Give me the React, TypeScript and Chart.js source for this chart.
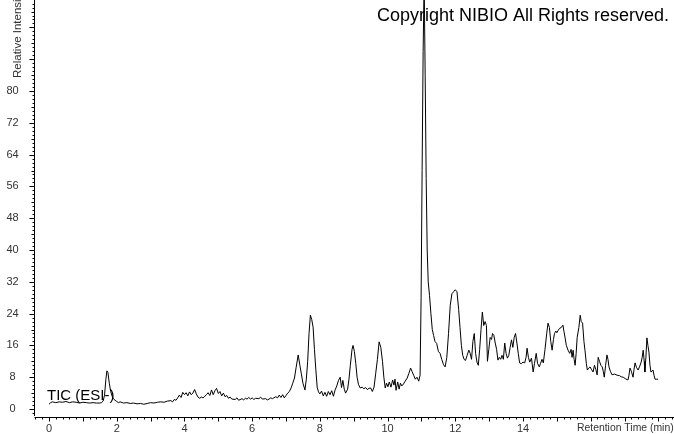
import React, { useEffect, useRef } from "react";
import { Chart, registerables } from "chart.js";

Chart.register(...registerables);

// Retention time (min) and relative intensity
const retentionTimes = [
  0.0, 0.05, 0.1, 0.2, 0.3, 0.4, 0.5, 0.6, 0.7, 0.8, 0.9, 1.0, 1.1, 1.2, 1.3, 1.4, 1.5, 1.55, 1.6, 1.64, 1.68, 1.71, 1.74, 1.78, 1.82, 1.86, 1.9, 1.95,
  2.0, 2.05, 2.1, 2.2, 2.3, 2.4, 2.5, 2.6, 2.7, 2.8, 2.9, 3.0, 3.1, 3.2, 3.3, 3.4, 3.5, 3.6, 3.65, 3.7, 3.75, 3.8, 3.85, 3.9, 3.95,
  4.0, 4.05, 4.1, 4.15, 4.2, 4.25, 4.3, 4.35, 4.4, 4.45, 4.5, 4.55, 4.6, 4.65, 4.7, 4.75, 4.8, 4.85, 4.9, 4.95,
  5.0, 5.05, 5.1, 5.15, 5.2, 5.25, 5.3, 5.35, 5.4, 5.5, 5.55, 5.6, 5.7, 5.75, 5.8, 5.85, 5.9, 5.95,
  6.0, 6.05, 6.1, 6.2, 6.25, 6.3, 6.4, 6.45, 6.5, 6.55, 6.6, 6.7, 6.75, 6.8, 6.85, 6.9, 6.95,
  7.0, 7.05, 7.1, 7.15, 7.2, 7.25, 7.3, 7.36, 7.41, 7.45, 7.5, 7.56, 7.6, 7.64, 7.68, 7.72, 7.76, 7.8, 7.84, 7.88, 7.92, 7.96,
  8.0, 8.05, 8.1, 8.15, 8.2, 8.25, 8.3, 8.35, 8.4, 8.45, 8.5, 8.55, 8.6, 8.64, 8.68, 8.72, 8.76, 8.82, 8.86, 8.9, 8.95, 8.98,
  9.02, 9.06, 9.1, 9.14, 9.19, 9.25, 9.3, 9.35, 9.4, 9.45, 9.5, 9.55, 9.6, 9.65, 9.7, 9.75, 9.8, 9.85, 9.89, 9.93, 9.97,
  10.01, 10.05, 10.1, 10.15, 10.19, 10.22, 10.25, 10.3, 10.34, 10.38, 10.42, 10.47, 10.52, 10.58, 10.63, 10.68, 10.72, 10.77, 10.82, 10.87, 10.92, 10.96, 10.99,
  11.02, 11.05, 11.08, 11.11, 11.14, 11.17, 11.2, 11.24, 11.28, 11.32, 11.36, 11.4, 11.45, 11.5, 11.55, 11.6, 11.65, 11.7, 11.75, 11.8, 11.85, 11.9, 11.95,
  12.0, 12.05, 12.1, 12.14, 12.18, 12.22, 12.26, 12.3, 12.35, 12.4, 12.44, 12.48, 12.52, 12.56, 12.6, 12.64, 12.68, 12.72, 12.76, 12.8, 12.84, 12.88, 12.92, 12.95, 12.99,
  13.03, 13.07, 13.1, 13.14, 13.18, 13.22, 13.26, 13.3, 13.34, 13.38, 13.42, 13.46, 13.5, 13.54, 13.58, 13.62, 13.66, 13.7, 13.74, 13.78, 13.82, 13.86, 13.9, 13.95,
  14.0, 14.05, 14.09, 14.12, 14.16, 14.2, 14.25, 14.3, 14.34, 14.39, 14.43, 14.48, 14.52, 14.56, 14.6, 14.65, 14.7, 14.74, 14.78, 14.82, 14.86, 14.9, 14.93, 14.97,
  15.0, 15.04, 15.08, 15.13, 15.18, 15.21, 15.24, 15.28, 15.33, 15.38, 15.42, 15.45, 15.48, 15.51, 15.54, 15.57, 15.6, 15.65, 15.69, 15.72, 15.76, 15.8, 15.83, 15.87, 15.9, 15.94, 15.98,
  16.02, 16.07, 16.11, 16.15, 16.19, 16.22, 16.26, 16.3, 16.34, 16.37, 16.4, 16.44, 16.48, 16.51, 16.54, 16.58, 16.63, 16.7, 16.78, 16.85, 16.9, 16.96,
  17.03, 17.1, 17.13, 17.16, 17.2, 17.25, 17.28, 17.31, 17.35, 17.4, 17.45, 17.49, 17.52, 17.55, 17.58, 17.6, 17.63, 17.66, 17.69, 17.72, 17.75, 17.78, 17.81, 17.84, 17.87, 17.9, 17.95, 17.99,
];

const intensities = [
  1.2, 1.6, 1.8, 1.6, 1.8, 1.7, 1.9, 1.6, 1.8, 1.7, 1.5, 1.7, 1.6, 1.5, 1.6, 1.5, 1.5, 1.6, 2.0, 3.5, 7.5, 9.6, 9.2, 6.5, 4.5, 3.3, 2.6, 2.2,
  1.9, 1.6, 1.8, 1.5, 1.6, 1.4, 1.5, 1.3, 1.4, 1.2, 1.4, 1.6, 1.5, 1.7, 1.8, 1.7, 2.0, 2.1, 1.8, 2.4, 2.2, 2.8, 3.5, 2.9, 4.2,
  3.6, 4.1, 3.3, 4.3, 3.6, 4.0, 4.9, 3.8, 3.0, 2.7, 3.0, 2.8, 3.2, 3.6, 4.1, 3.4, 4.8, 3.6, 4.6, 5.2,
  3.9, 4.4, 3.3, 4.0, 3.1, 3.4, 2.7, 3.0, 2.5, 2.4, 2.8, 2.2, 2.6, 2.3, 2.7, 2.5, 2.9, 2.5,
  2.8, 2.4, 2.7, 2.6, 3.0, 2.5, 2.6, 2.3, 2.5, 2.8, 2.6, 3.1, 2.8, 3.5, 2.9, 3.6, 2.8,
  3.4, 4.0, 4.4, 5.3, 6.5, 7.8, 10.5, 13.6, 11.0, 9.0, 6.5, 4.8, 7.5, 12.0, 19.0, 23.6, 22.5, 20.6, 15.0, 10.0, 5.5, 4.3,
  3.8, 4.5, 3.3, 4.2, 3.2, 4.4, 3.6, 4.6, 3.2, 4.8, 5.8, 7.2, 8.0, 5.4, 7.2, 5.0, 4.0, 5.0, 7.5, 11.0, 15.0, 16.0,
  14.5, 11.5, 8.0, 6.2, 5.3, 5.5, 5.1, 5.4, 4.9, 5.2, 5.3, 4.4, 5.5, 9.0, 12.5, 16.9, 15.5, 12.0, 8.0, 5.3, 6.5,
  5.6, 6.8, 5.5, 7.3, 6.0, 7.5, 4.7, 6.8, 5.0, 6.5, 5.8, 6.3, 7.0, 7.8, 9.0, 10.3, 9.5, 8.5, 7.5, 8.0, 7.0, 8.5, 28.0,
  60.0, 90.0, 108.0, 84.0, 58.0, 40.0, 32.0, 28.5, 24.0, 20.0, 18.5, 17.0, 16.5, 14.5, 14.0, 12.5, 11.2, 10.6, 13.0, 19.0, 26.0, 29.0, 29.5,
  30.0, 29.5, 25.0, 20.5, 16.0, 13.5, 12.5, 12.2, 13.5, 14.8, 14.0, 12.5, 17.0, 19.0, 14.0, 11.8, 11.0, 15.0, 20.0, 24.4, 21.0, 22.0, 21.0, 12.0, 15.0,
  18.0, 17.5, 19.0, 18.5, 16.6, 15.0, 12.3, 13.0, 12.5, 13.5, 12.5, 16.6, 14.0, 12.8, 13.5, 15.5, 17.4, 15.5, 18.0, 19.0, 16.6, 14.0, 11.6, 11.4,
  11.8, 11.6, 13.0, 15.3, 13.0, 11.8, 12.8, 9.3, 11.5, 14.0, 11.5, 10.6, 11.5, 12.5, 11.6, 15.0, 19.0, 21.6, 20.5, 17.0, 14.8, 17.5, 19.0, 19.6,
  19.2, 19.8, 20.3, 20.5, 21.1, 19.5, 18.1, 16.0, 14.8, 14.0, 15.0, 13.0, 14.8, 12.5, 11.0, 14.0, 18.0, 20.5, 23.6, 22.0, 21.6, 17.0, 14.8, 11.5, 9.8, 10.3, 10.6,
  10.0, 9.3, 11.0, 10.0, 8.6, 13.0, 12.0, 11.0, 10.6, 9.5, 8.0, 11.0, 13.6, 12.5, 10.6, 9.5, 8.6, 8.8, 8.5, 8.4, 8.1, 8.0,
  7.6, 7.3, 8.5, 10.3, 9.5, 8.0, 10.0, 11.6, 10.5, 9.8, 10.8, 11.8, 13.0, 14.8, 12.0, 9.3, 13.0, 17.9, 16.0, 14.3, 11.0, 9.3, 9.5, 9.8, 8.5, 7.5, 7.5, 7.5,
];

const yTickLabels = [0, 8, 16, 24, 32, 40, 48, 56, 64, 72, 80];
const xTickLabels = [0, 2, 4, 6, 8, 10, 12, 14];
const xAxisTitle = "Retention Time (min)";
const yAxisTitle = "Relative Intensity";
const traceLabel = "TIC (ESI-)";
const copyrightText = "Copyright NIBIO All Rights reserved.";

const X_MIN = -0.414;
const X_MAX = 18.46;
const Y_MIN = -2.01;
const Y_MAX = 102.9;

const frame = (v: number) => Math.round(v) + 0.5;

const annotationsPlugin = {
  id: "chromAxes",
  beforeDatasetsDraw(chart: any) {
    const { ctx } = chart;
    ctx.save();
    ctx.fillStyle = "#000";
    ctx.font = "18px 'Liberation Sans', Arial, sans-serif";
    ctx.textAlign = "left";
    ctx.textBaseline = "alphabetic";
    ctx.fillText(copyrightText, 377, 21);
    ctx.font = "15px 'Liberation Sans', Arial, sans-serif";
    ctx.fillStyle = "#000";
    ctx.fillText(traceLabel, 47, 399.5);
    ctx.restore();
  },
  afterDraw(chart: any) {
    const { ctx, chartArea, scales } = chart;
    const xs = scales.x;
    const ys = scales.y;
    ctx.save();
    ctx.strokeStyle = "#000";
    ctx.lineWidth = 1;
    const axX = chartArea.left - 0.5;
    const axY = chartArea.bottom + 0.5;
    // axis lines
    ctx.beginPath();
    ctx.moveTo(axX, 0);
    ctx.lineTo(axX, chartArea.bottom - 1);
    ctx.moveTo(axX, axY);
    ctx.lineTo(chartArea.right, axY);
    ctx.stroke();
    // y ticks
    ctx.beginPath();
    for (let v = -1; v <= 102; v++) {
      const py = frame(ys.getPixelForValue(v));
      const len = v % 8 === 0 ? 5 : v % 4 === 0 ? 3 : 2;
      ctx.moveTo(axX - len, py);
      ctx.lineTo(axX, py);
    }
    // x ticks
    for (let i = -2; i <= 92; i++) {
      const t = i * 0.2;
      if (t < X_MIN || t > X_MAX) continue;
      const px = frame(xs.getPixelForValue(t));
      const len = i % 5 === 0 ? 4 : 2;
      ctx.moveTo(px, axY);
      ctx.lineTo(px, axY + len);
    }
    ctx.stroke();
    // labels
    ctx.fillStyle = "#333";
    ctx.font = "11px 'Liberation Sans', Arial, sans-serif";
    ctx.textAlign = "center";
    ctx.textBaseline = "middle";
    yTickLabels.forEach((v) => {
      ctx.fillText(String(v), 12.5, ys.getPixelForValue(v));
    });
    xTickLabels.forEach((v) => {
      ctx.fillText(String(v), xs.getPixelForValue(v), 428.5);
    });
    ctx.textAlign = "left";
    ctx.font = "10.4px 'Liberation Sans', Arial, sans-serif";
    ctx.fillText(xAxisTitle, 577, 428.5);
    // y title rotated
    ctx.save();
    ctx.translate(18, 78);
    ctx.rotate(-Math.PI / 2);
    ctx.font = "11.5px 'Liberation Sans', Arial, sans-serif";
    ctx.textAlign = "left";
    ctx.textBaseline = "middle";
    ctx.fillText(yAxisTitle, 0, 0);
    ctx.restore();
    ctx.restore();
  },
};

export default function App() {
  const canvasRef = useRef<HTMLCanvasElement | null>(null);

  useEffect(() => {
    document.body.style.margin = "0";
    const canvas = canvasRef.current;
    if (!canvas) return;
    const points = retentionTimes.map((t, i) => ({ x: t, y: intensities[i] }));
    const chart = new Chart(canvas, {
      type: "line",
      data: {
        datasets: [
          {
            label: traceLabel,
            data: points,
            borderColor: "#000",
            borderWidth: 1,
            pointRadius: 0,
            tension: 0,
            fill: false,
          },
        ],
      },
      options: {
        animation: false,
        responsive: false,
        devicePixelRatio: 1,
        layout: { padding: { left: 35, right: 0, top: 0, bottom: 17 } },
        plugins: { legend: { display: false }, tooltip: { enabled: false } },
        scales: {
          x: { type: "linear", min: X_MIN, max: X_MAX, display: false },
          y: { type: "linear", min: Y_MIN, max: Y_MAX, display: false },
        },
      },
      plugins: [annotationsPlugin],
    });
    return () => chart.destroy();
  }, []);

  return (
    <div style={{ width: 674, height: 434, background: "#fff" }}>
      <canvas ref={canvasRef} width={674} height={434} style={{ display: "block" }} />
    </div>
  );
}
